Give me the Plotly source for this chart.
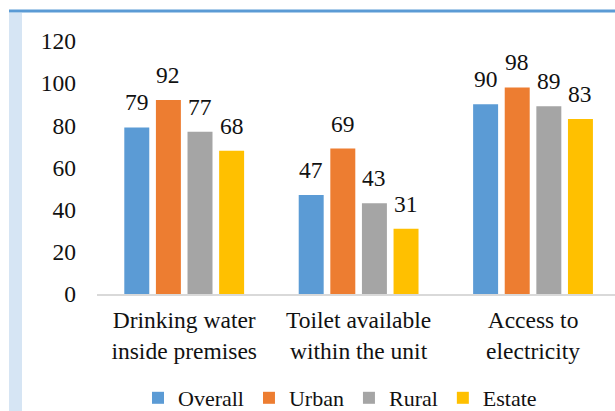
import plotly.graph_objects as go

# Household amenities (%) by sector
categories = ["Drinking water<br>inside premises", "Toilet available<br>within the unit", "Access to<br>electricity"]
series_names = ["Overall", "Urban", "Rural", "Estate"]
overall = [79, 47, 90]
urban = [92, 69, 98]
rural = [77, 43, 89]
estate = [68, 31, 83]
y_ticks = [0, 20, 40, 60, 80, 100, 120]

colors = ["#5B9BD5", "#ED7D31", "#A5A5A5", "#FFC000"]
values = [overall, urban, rural, estate]

W, H = 615, 411
ML, MR, MT, MB = 97, 0, 41, 117
pw, ph = W - ML - MR, H - MT - MB

# category axis runs slightly past the right edge of the canvas
x_range = [-0.5, 2.47]
px_per_cat = pw / (x_range[1] - x_range[0])
bargap, bargroupgap = 0.275, 0.21
slot = (1 - bargap) / len(series_names)


def px_x(px):
    return (px - ML) / pw


def px_y(py):
    return (H - MB - py) / ph


font = "Liberation Serif"
fs = 23.5
ink = "#111111"

fig = go.Figure()
for name, vals, col in zip(series_names, values, colors):
    fig.add_trace(go.Bar(
        x=categories, y=vals, name=name,
        marker=dict(color=col, line=dict(width=0)),
    ))

# value labels above each bar
annotations = []
for k, vals in enumerate(values):
    dx = (k - (len(series_names) - 1) / 2) * slot * px_per_cat
    for cat, v in zip(categories, vals):
        annotations.append(dict(
            x=cat, y=v, xref="x", yref="y", text=str(v), showarrow=False,
            xanchor="center", yanchor="bottom", xshift=dx, yshift=10,
            font=dict(family=font, size=fs, color=ink),
        ))

fig.update_layout(
    width=W, height=H,
    margin=dict(l=ML, r=MR, t=MT, b=MB, autoexpand=False),
    paper_bgcolor="white", plot_bgcolor="white",
    barmode="group", bargap=bargap, bargroupgap=bargroupgap,
    font=dict(family=font, size=fs, color=ink),
    showlegend=True,
    legend=dict(orientation="h", x=px_x(340), xanchor="center", y=px_y(398), yanchor="middle",
                font=dict(family=font, size=22, color=ink),
                itemwidth=30, tracegroupgap=0),
    xaxis=dict(range=x_range, showline=True, linecolor="#D9D9D9", linewidth=1.5, ticks="",
               tickfont=dict(family=font, size=fs, color=ink),
               ticklabelstandoff=4),
    yaxis=dict(range=[0, 120], tickvals=y_ticks, showgrid=False, zeroline=False,
               showline=False, ticks="", ticklabelstandoff=20,
               tickfont=dict(family=font, size=fs, color=ink)),
    annotations=annotations,
    shapes=[
        # blue rule across the top
        dict(type="line", xref="paper", yref="paper",
             x0=px_x(9), x1=px_x(W), y0=px_y(11), y1=px_y(11),
             line=dict(color="#5B9BD5", width=3), layer="below"),
        # pale side band
        dict(type="rect", xref="paper", yref="paper",
             x0=px_x(9), x1=px_x(22), y0=px_y(H), y1=px_y(13),
             fillcolor="#D6E5F4", line=dict(width=0), layer="below"),
    ],
)

fig.write_html("out.html")
